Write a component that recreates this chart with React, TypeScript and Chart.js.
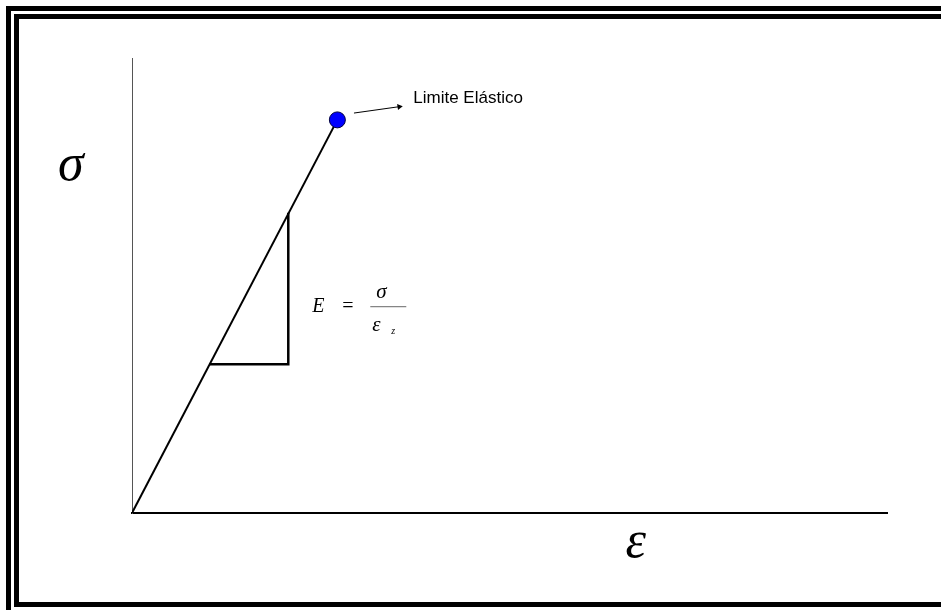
import React, { useEffect, useRef } from "react";
import { Chart, registerables } from "chart.js";

Chart.register(...registerables);

// Data (arbitrary units, 0..100 on both axes)
const elasticLineX = [0, 27.2];
const elasticLineY = [0, 86.4];
const limitPointX = [27.2];
const limitPointY = [86.4];
const triangleX = [10.2, 20.7, 20.7];
const triangleY = [32.7, 32.7, 66.0];
const arrowX = [29.4, 35.4];
const arrowY = [87.9, 89.3];
const labelText = "Limite Elástico";
const yAxisSymbol = "σ";
const xAxisSymbol = "ε";

const toPts = (xs: number[], ys: number[]) => xs.map((x, i) => ({ x, y: ys[i] }));

const annotations = {
  id: "annotations",
  beforeDraw(chart: any) {
    const ctx = chart.ctx;
    ctx.save();
    ctx.fillStyle = "#ffffff";
    ctx.fillRect(0, 0, chart.width, chart.height);
    ctx.fillStyle = "#000000";
    // double frame
    ctx.fillRect(6, 6, 5, chart.height - 6);
    ctx.fillRect(6, 6, chart.width - 6, 5);
    ctx.fillRect(14, 14, 5, 593);
    ctx.fillRect(14, 14, chart.width - 14, 5);
    ctx.fillRect(14, 602, chart.width - 14, 5);
    ctx.restore();
  },
  afterDraw(chart: any) {
    const ctx = chart.ctx;
    const xs = chart.scales.x;
    const ys = chart.scales.y;
    const px = (v: number) => xs.getPixelForValue(v);
    const py = (v: number) => ys.getPixelForValue(v);
    ctx.save();
    ctx.fillStyle = "#000";
    ctx.textBaseline = "alphabetic";
    ctx.textAlign = "left";
    // label
    ctx.font = '17px "Liberation Sans", Arial, sans-serif';
    ctx.fillText(labelText, px(arrowX[1]) + 14, py(arrowY[1]) - 4);
    // axis symbols
    ctx.font = 'italic 52px "Liberation Serif", "Times New Roman", serif';
    ctx.fillText(yAxisSymbol, px(0) - 74, py(0) - 333);
    ctx.fillText(xAxisSymbol, px(65.5) - 1, py(0) + 44);
    // formula E = sigma / eps_z
    const ex = px(triangleX[2]) + 24;
    const ey = py(triangleY[0]) - 52;
    ctx.font = 'italic 20px "Liberation Serif", "Times New Roman", serif';
    ctx.fillText("E", ex, ey);
    ctx.font = '20px "Liberation Serif", "Times New Roman", serif';
    ctx.fillText("=", ex + 30, ey);
    ctx.font = 'italic 21px "Liberation Serif", "Times New Roman", serif';
    ctx.fillText("σ", ex + 64, ey - 14);
    ctx.fillText("ε", ex + 60, ey + 19);
    ctx.font = 'italic 10px "Liberation Serif", "Times New Roman", serif';
    ctx.fillText("z", ex + 79, ey + 22);
    ctx.strokeStyle = "#666";
    ctx.lineWidth = 1;
    ctx.beginPath();
    ctx.moveTo(ex + 58, ey - 5.5);
    ctx.lineTo(ex + 94, ey - 5.5);
    ctx.stroke();
    ctx.restore();
  },
};

export default function App() {
  const ref = useRef<HTMLCanvasElement | null>(null);
  useEffect(() => {
    document.body.style.margin = "0";
    if (!ref.current) return;
    const chart = new Chart(ref.current, {
      type: "scatter",
      data: {
        datasets: [
          {
            data: toPts(limitPointX, limitPointY),
            pointRadius: 8,
            pointBackgroundColor: "#0000ff",
            pointBorderColor: "#000040",
            pointBorderWidth: 1,
            showLine: false,
          },
          {
            data: toPts(arrowX, arrowY),
            showLine: true,
            borderColor: "#000",
            borderWidth: 1,
            pointRadius: [0, 3.5],
            pointStyle: "triangle",
            rotation: [0, 81],
            pointBackgroundColor: "#000",
            pointBorderColor: "#000",
            pointBorderWidth: 0,
          },
          {
            data: toPts(elasticLineX, elasticLineY),
            showLine: true,
            borderColor: "#000",
            borderWidth: 2,
            pointRadius: 0,
          },
          {
            data: toPts(triangleX, triangleY),
            showLine: true,
            borderColor: "#000",
            borderWidth: 2.5,
            pointRadius: 0,
          },
        ],
      } as any,
      options: {
        animation: false,
        responsive: false,
        maintainAspectRatio: false,
        layout: { padding: { left: 132, top: 58, right: 54, bottom: 97 } },
        plugins: { legend: { display: false }, tooltip: { enabled: false } },
        scales: {
          x: {
            type: "linear",
            min: 0,
            max: 100,
            ticks: { display: false },
            grid: { display: false, drawTicks: false },
            border: { display: true, color: "#000", width: 2 },
            afterFit: (s: any) => {
              s.height = 0;
            },
          },
          y: {
            type: "linear",
            min: 0,
            max: 100,
            ticks: { display: false },
            grid: { display: false, drawTicks: false },
            border: { display: true, color: "#555", width: 1 },
            afterFit: (s: any) => {
              s.width = 0;
            },
          },
        },
      } as any,
      plugins: [annotations],
    });
    return () => chart.destroy();
  }, []);
  return (
    <div style={{ width: 941, height: 610 }}>
      <canvas ref={ref} width={941} height={610} style={{ display: "block" }} />
    </div>
  );
}
